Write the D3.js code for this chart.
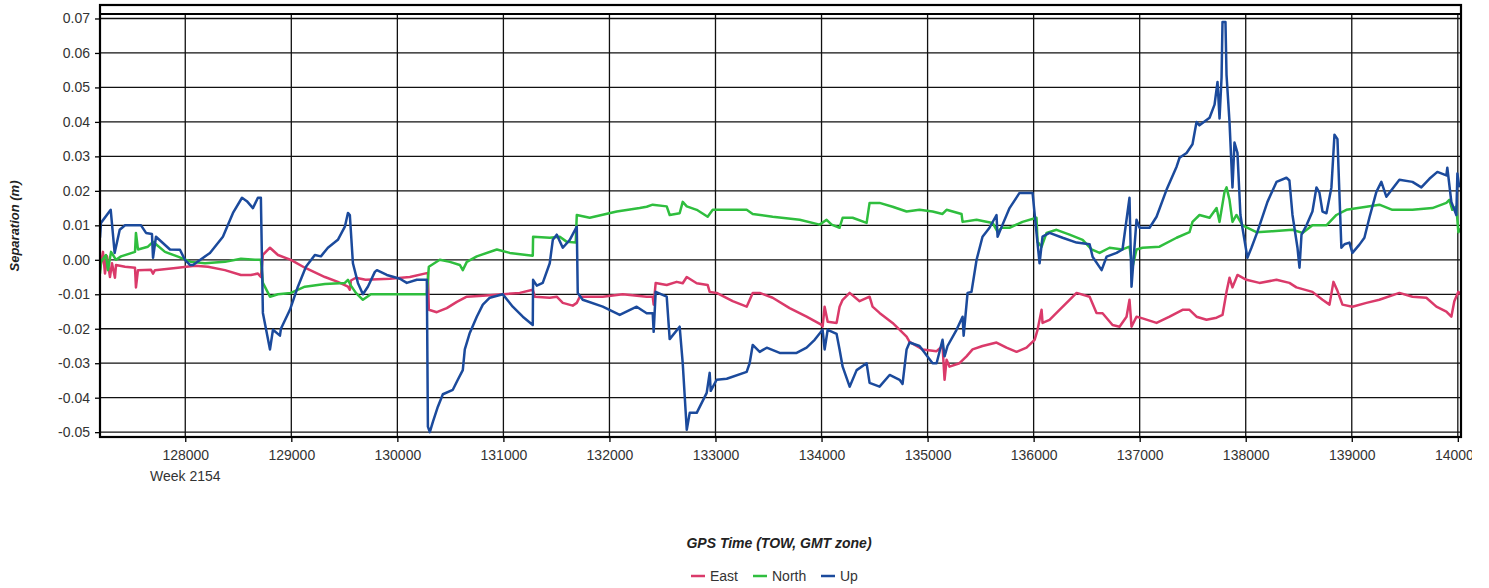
<!DOCTYPE html>
<html>
<head>
<meta charset="utf-8">
<script src="https://cdn.jsdelivr.net/npm/d3@7"></script>
<style>
  html, body { margin: 0; padding: 0; background: #fff; }
  svg { display: block; font-family: "Liberation Sans", Arial, sans-serif; }
</style>
</head>
<body>
<svg id="chart" width="1489" height="588"></svg>
<script>
// ---- data (GPS TOW seconds, separation in metres) ----
const xTicks = [128000,129000,130000,131000,132000,133000,134000,135000,136000,137000,138000,139000,140000];
const yTicks = [-0.05,-0.04,-0.03,-0.02,-0.01,0,0.01,0.02,0.03,0.04,0.05,0.06,0.07];
const weekLabel = "Week 2154";
const seriesNames = ["East","North","Up"];

const eastData = [[127196,-0.003],[127224,0.0023],[127243,-0.004],[127262,0.001],[127290,-0.005],[127309,-0.001],[127337,-0.0052],[127347,-0.0015],[127432,-0.002],[127526,-0.0023],[127535,-0.008],[127554,-0.003],[127677,-0.0029],[127696,-0.004],[127714,-0.003],[127931,-0.0023],[128091,-0.0017],[128214,-0.002],[128374,-0.003],[128525,-0.0044],[128619,-0.0044],[128685,-0.004],[128713,-0.005],[128732,0.0014],[128799,0.0035],[128874,0.0014],[128996,0.0],[129128,-0.0023],[129317,-0.005],[129439,-0.0064],[129534,-0.0078],[129552,-0.0087],[129562,-0.006],[129609,-0.0052],[129700,-0.0058],[129929,-0.0055],[130118,-0.005],[130288,-0.0038],[130297,-0.0145],[130372,-0.0152],[130466,-0.014],[130561,-0.0122],[130655,-0.0107],[130806,-0.0104],[130994,-0.010],[131154,-0.0096],[131277,-0.0087],[131296,-0.0107],[131437,-0.011],[131503,-0.0107],[131560,-0.0125],[131654,-0.0133],[131692,-0.0125],[131720,-0.0107],[131937,-0.0107],[132125,-0.010],[132351,-0.0107],[132408,-0.0107],[132417,-0.013],[132436,-0.0067],[132540,-0.0073],[132634,-0.0064],[132691,-0.0068],[132729,-0.005],[132823,-0.0068],[132926,-0.0073],[132945,-0.0093],[133011,-0.0096],[133162,-0.012],[133294,-0.0136],[133351,-0.0096],[133417,-0.0096],[133539,-0.011],[133699,-0.014],[133859,-0.0165],[134001,-0.0189],[134010,-0.0194],[134029,-0.0136],[134058,-0.018],[134142,-0.0183],[134170,-0.0136],[134199,-0.0116],[134265,-0.0096],[134359,-0.012],[134453,-0.0107],[134481,-0.0136],[134547,-0.0154],[134670,-0.0183],[134802,-0.0223],[134830,-0.0238],[134953,-0.026],[135085,-0.0265],[135141,-0.025],[135160,-0.0348],[135179,-0.029],[135207,-0.031],[135301,-0.030],[135367,-0.028],[135424,-0.026],[135518,-0.025],[135650,-0.024],[135744,-0.0255],[135839,-0.0267],[135933,-0.0255],[136009,-0.0232],[136037,-0.0203],[136075,-0.0145],[136084,-0.0183],[136150,-0.0174],[136244,-0.0145],[136339,-0.0116],[136405,-0.0096],[136528,-0.0107],[136593,-0.0154],[136650,-0.0155],[136744,-0.0189],[136810,-0.0194],[136876,-0.0165],[136904,-0.0116],[136923,-0.0194],[136970,-0.0165],[137027,-0.017],[137159,-0.0183],[137282,-0.0165],[137404,-0.0145],[137470,-0.0145],[137536,-0.0165],[137630,-0.0174],[137725,-0.0168],[137781,-0.016],[137819,-0.0093],[137847,-0.0052],[137875,-0.008],[137922,-0.0044],[138007,-0.0058],[138129,-0.0067],[138290,-0.0058],[138412,-0.0067],[138478,-0.008],[138629,-0.0093],[138724,-0.0116],[138790,-0.013],[138827,-0.0064],[138865,-0.009],[138912,-0.013],[139006,-0.0136],[139138,-0.0125],[139260,-0.0116],[139449,-0.0096],[139572,-0.0107],[139703,-0.011],[139798,-0.0136],[139892,-0.015],[139939,-0.0165],[139967,-0.012],[140005,-0.0093],[140025,-0.010]];

const northData = [[127196,-0.004],[127205,-0.0006],[127252,0.0014],[127271,-0.003],[127300,0.0023],[127347,0.0],[127394,0.001],[127526,0.0023],[127535,0.0078],[127554,0.003],[127648,0.0038],[127696,0.0052],[127724,0.0045],[127809,0.0023],[127931,0.0009],[128054,-0.0006],[128186,-0.001],[128374,-0.0006],[128525,0.0003],[128657,0.0],[128713,0.0],[128732,-0.0067],[128799,-0.0107],[128874,-0.010],[128996,-0.0096],[129128,-0.0078],[129317,-0.007],[129505,-0.0067],[129534,-0.0058],[129562,-0.0075],[129609,-0.0096],[129675,-0.0116],[129750,-0.010],[130278,-0.010],[130297,-0.002],[130400,0.0],[130495,-0.0006],[130589,-0.0015],[130617,-0.003],[130655,-0.0006],[130749,0.001],[130938,0.003],[131060,0.002],[131277,0.0012],[131280,0.0067],[131437,0.0064],[131532,0.0067],[131598,0.0052],[131682,0.005],[131692,0.013],[131814,0.0122],[132069,0.014],[132285,0.015],[132351,0.0154],[132408,0.016],[132540,0.0155],[132568,0.013],[132662,0.0135],[132691,0.0168],[132729,0.0155],[132823,0.0145],[132926,0.0125],[132974,0.0145],[133294,0.0145],[133351,0.0133],[133539,0.0125],[133794,0.0116],[133982,0.0102],[134048,0.0116],[134095,0.0102],[134170,0.0093],[134199,0.0122],[134293,0.0122],[134425,0.0107],[134453,0.0165],[134547,0.0165],[134670,0.0154],[134802,0.014],[134924,0.0145],[135047,0.014],[135141,0.0133],[135179,0.0145],[135320,0.0133],[135330,0.011],[135462,0.0116],[135613,0.0107],[135660,0.0081],[135697,0.0093],[135773,0.0093],[135895,0.011],[136027,0.0122],[136037,0.0052],[136075,0.0038],[136122,0.0078],[136216,0.0087],[136339,0.0073],[136462,0.0058],[136546,0.003],[136622,0.002],[136716,0.0035],[136838,0.003],[136904,0.0038],[136933,-0.002],[136970,0.003],[137027,0.0035],[137187,0.0038],[137348,0.0064],[137470,0.008],[137498,0.011],[137564,0.013],[137659,0.0122],[137725,0.015],[137753,0.011],[137800,0.0197],[137819,0.021],[137847,0.0174],[137875,0.011],[137913,0.013],[137969,0.010],[138101,0.008],[138252,0.0083],[138441,0.0087],[138535,0.0078],[138629,0.010],[138761,0.010],[138855,0.013],[138949,0.0145],[139138,0.0154],[139260,0.016],[139383,0.0145],[139572,0.0145],[139760,0.015],[139892,0.0165],[139920,0.0174],[139948,0.0145],[139986,0.0155],[140005,0.008],[140025,0.009]];

const upData = [[127196,0.0064],[127205,0.0107],[127297,0.0145],[127334,0.002],[127382,0.0087],[127432,0.0100],[127583,0.0100],[127630,0.0078],[127686,0.0075],[127696,0.0006],[127724,0.0067],[127856,0.003],[127950,0.0029],[127997,0.0],[128044,-0.0015],[128073,-0.0015],[128233,0.002],[128355,0.0067],[128450,0.0136],[128535,0.018],[128581,0.017],[128638,0.015],[128685,0.018],[128713,0.018],[128732,-0.0154],[128799,-0.026],[128827,-0.0203],[128893,-0.022],[128902,-0.020],[128987,-0.0145],[129062,-0.0078],[129138,-0.002],[129222,0.0014],[129279,0.001],[129345,0.0035],[129439,0.0058],[129505,0.0096],[129534,0.0136],[129552,0.013],[129581,-0.001],[129628,-0.0067],[129675,-0.010],[129722,-0.0078],[129788,-0.0035],[129807,-0.003],[129901,-0.0044],[130024,-0.0055],[130089,-0.0067],[130184,-0.0058],[130278,-0.0058],[130288,-0.0484],[130306,-0.050],[130335,-0.047],[130382,-0.0426],[130429,-0.039],[130523,-0.0377],[130570,-0.0348],[130617,-0.032],[130636,-0.026],[130683,-0.0212],[130749,-0.0165],[130806,-0.013],[130872,-0.011],[130994,-0.010],[131088,-0.0136],[131183,-0.0165],[131277,-0.0189],[131280,-0.0058],[131315,-0.0075],[131371,-0.0067],[131437,-0.001],[131466,0.0058],[131503,0.0073],[131560,0.0035],[131626,0.0058],[131692,0.0096],[131701,-0.0096],[131748,-0.0116],[131937,-0.0136],[132097,-0.016],[132257,-0.0136],[132351,-0.0155],[132408,-0.0155],[132417,-0.0209],[132436,-0.0093],[132540,-0.0107],[132568,-0.023],[132662,-0.0194],[132691,-0.030],[132729,-0.0493],[132757,-0.0444],[132823,-0.0444],[132917,-0.0386],[132945,-0.0328],[132955,-0.038],[133011,-0.0348],[133106,-0.0345],[133294,-0.0325],[133322,-0.030],[133351,-0.0247],[133417,-0.0267],[133483,-0.0255],[133605,-0.027],[133765,-0.027],[133859,-0.0255],[133935,-0.0232],[134010,-0.0203],[134029,-0.026],[134058,-0.0203],[134142,-0.0215],[134170,-0.026],[134199,-0.031],[134265,-0.0368],[134331,-0.032],[134425,-0.030],[134453,-0.0357],[134547,-0.0368],[134642,-0.0334],[134736,-0.0348],[134764,-0.036],[134802,-0.026],[134830,-0.024],[134924,-0.025],[135047,-0.030],[135085,-0.030],[135141,-0.0232],[135160,-0.028],[135188,-0.025],[135273,-0.0203],[135330,-0.0165],[135340,-0.022],[135377,-0.0096],[135414,-0.0093],[135462,0.0],[135518,0.0067],[135584,0.0093],[135650,0.013],[135660,0.0067],[135707,0.0102],[135773,0.015],[135867,0.0194],[135990,0.0194],[136027,0.0078],[136056,-0.001],[136084,0.0067],[136150,0.0078],[136273,0.0064],[136405,0.005],[136528,0.0045],[136556,0.0009],[136641,-0.003],[136688,0.0009],[136782,0.002],[136838,0.003],[136904,0.018],[136923,-0.0078],[136970,0.0116],[136999,0.0093],[137093,0.0093],[137159,0.0125],[137253,0.0203],[137348,0.027],[137376,0.0296],[137442,0.031],[137498,0.0335],[137536,0.040],[137564,0.039],[137659,0.0412],[137706,0.045],[137734,0.0516],[137753,0.041],[137772,0.0528],[137781,0.069],[137809,0.069],[137819,0.0536],[137847,0.040],[137875,0.021],[137894,0.034],[137922,0.031],[137950,0.013],[137969,0.0093],[138016,0.0006],[138054,0.0035],[138110,0.0081],[138205,0.0168],[138290,0.0226],[138384,0.0238],[138412,0.023],[138441,0.013],[138488,0.0035],[138507,-0.0023],[138526,0.0073],[138573,0.010],[138629,0.014],[138667,0.021],[138695,0.0195],[138724,0.014],[138761,0.0135],[138808,0.021],[138837,0.0363],[138865,0.035],[138902,0.0035],[138931,0.0045],[138978,0.005],[139006,0.002],[139072,0.0044],[139119,0.0064],[139166,0.0122],[139232,0.0197],[139279,0.0226],[139326,0.0183],[139449,0.0232],[139572,0.0226],[139656,0.021],[139732,0.0235],[139807,0.0255],[139892,0.0245],[139901,0.0267],[139939,0.0168],[139986,0.013],[139996,0.025],[140014,0.021]];

const seriesColors = ["#DA3A6A","#2FBE3E","#1B4A9C"];

// ---- chart ----
(function () {
const svg = d3.select("#chart");
const pL = 100, pR = 1461, pT = 14, pB = 437, outerT = 5;
const x = d3.scaleLinear().domain([127196, 140030]).range([pL, pR]);
const y = d3.scaleLinear().domain([-0.0514, 0.0713]).range([pB, pT]);

const defs = svg.append("defs");
defs.append("clipPath").attr("id","plotclip")
  .append("rect").attr("x", pL).attr("y", pT).attr("width", pR-pL).attr("height", pB-pT);
defs.append("clipPath").attr("id","pageclip")
  .append("rect").attr("x", 0).attr("y", 0).attr("width", 1472).attr("height", 588);

// grid
const grid = svg.append("g");
grid.selectAll("line.h").data(yTicks).join("line").attr("class","h")
  .attr("x1", pL).attr("x2", pR)
  .attr("y1", d => y(d)).attr("y2", d => y(d))
  .attr("stroke", "#111").attr("stroke-width", 1.3);
grid.selectAll("line.v").data(xTicks).join("line").attr("class","v")
  .attr("y1", pT).attr("y2", pB)
  .attr("x1", d => x(d)).attr("x2", d => x(d))
  .attr("stroke", "#111").attr("stroke-width", 1.3);

// series
const line = d3.line().x(d => x(d[0])).y(d => y(d[1]));
const plot = svg.append("g").attr("clip-path", "url(#plotclip)");
[eastData, northData, upData].forEach((data, i) => {
  plot.append("path").datum(data)
    .attr("d", line).attr("fill", "none")
    .attr("stroke", seriesColors[i]).attr("stroke-width", 2.5)
    .attr("stroke-linejoin", "round");
});

// frame
svg.append("rect").attr("x", pL).attr("y", outerT).attr("width", pR-pL).attr("height", pB-outerT)
  .attr("fill", "none").attr("stroke", "#000").attr("stroke-width", 2.2);
svg.append("line").attr("x1", pL).attr("x2", pR).attr("y1", pT).attr("y2", pT)
  .attr("stroke", "#000").attr("stroke-width", 1.8);

// axes
const yAxis = d3.axisLeft(y).tickValues(yTicks).tickSize(5).tickPadding(5)
  .tickFormat(d => (Math.abs(d) < 1e-9 ? 0 : d).toFixed(2));
const gy = svg.append("g").attr("transform", `translate(${pL},0)`).call(yAxis);
gy.select(".domain").remove();
gy.selectAll(".tick line").attr("stroke", "#000").attr("stroke-width", 1.3);
gy.selectAll(".tick text").attr("fill", "#333").style("font-size", "14px");

const xAxis = d3.axisBottom(x).tickValues(xTicks).tickSize(5).tickPadding(8)
  .tickFormat(d3.format("d"));
const gx = svg.append("g").attr("transform", `translate(0,${pB})`)
  .attr("clip-path", "url(#pageclip)").call(xAxis);
gx.select(".domain").remove();
gx.selectAll(".tick line").attr("stroke", "#000").attr("stroke-width", 1.3);
gx.selectAll(".tick text").attr("fill", "#333").style("font-size", "14px");

svg.append("text").attr("x", x(xTicks[0])).attr("y", 481)
  .attr("text-anchor", "middle").attr("fill", "#333").style("font-size", "14px")
  .text(weekLabel);

// titles
svg.append("text").attr("transform", "translate(19,226) rotate(-90)")
  .attr("text-anchor", "middle").attr("fill", "#222")
  .style("font-size", "13px").style("font-weight", "bold").style("font-style", "italic")
  .text("Separation (m)");
svg.append("text").attr("x", 779).attr("y", 548)
  .attr("text-anchor", "middle").attr("fill", "#222")
  .style("font-size", "14px").style("font-weight", "bold").style("font-style", "italic")
  .text("GPS Time (TOW, GMT zone)");

// legend
const legendX = [691, 753, 821];
const lg = svg.append("g");
seriesNames.forEach((name, i) => {
  lg.append("line").attr("x1", legendX[i]).attr("x2", legendX[i] + 14)
    .attr("y1", 576).attr("y2", 576)
    .attr("stroke", seriesColors[i]).attr("stroke-width", 2.5);
  lg.append("text").attr("x", legendX[i] + 19).attr("y", 581)
    .attr("fill", "#333").style("font-size", "14px").text(name);
});
})();
</script>
</body>
</html>
